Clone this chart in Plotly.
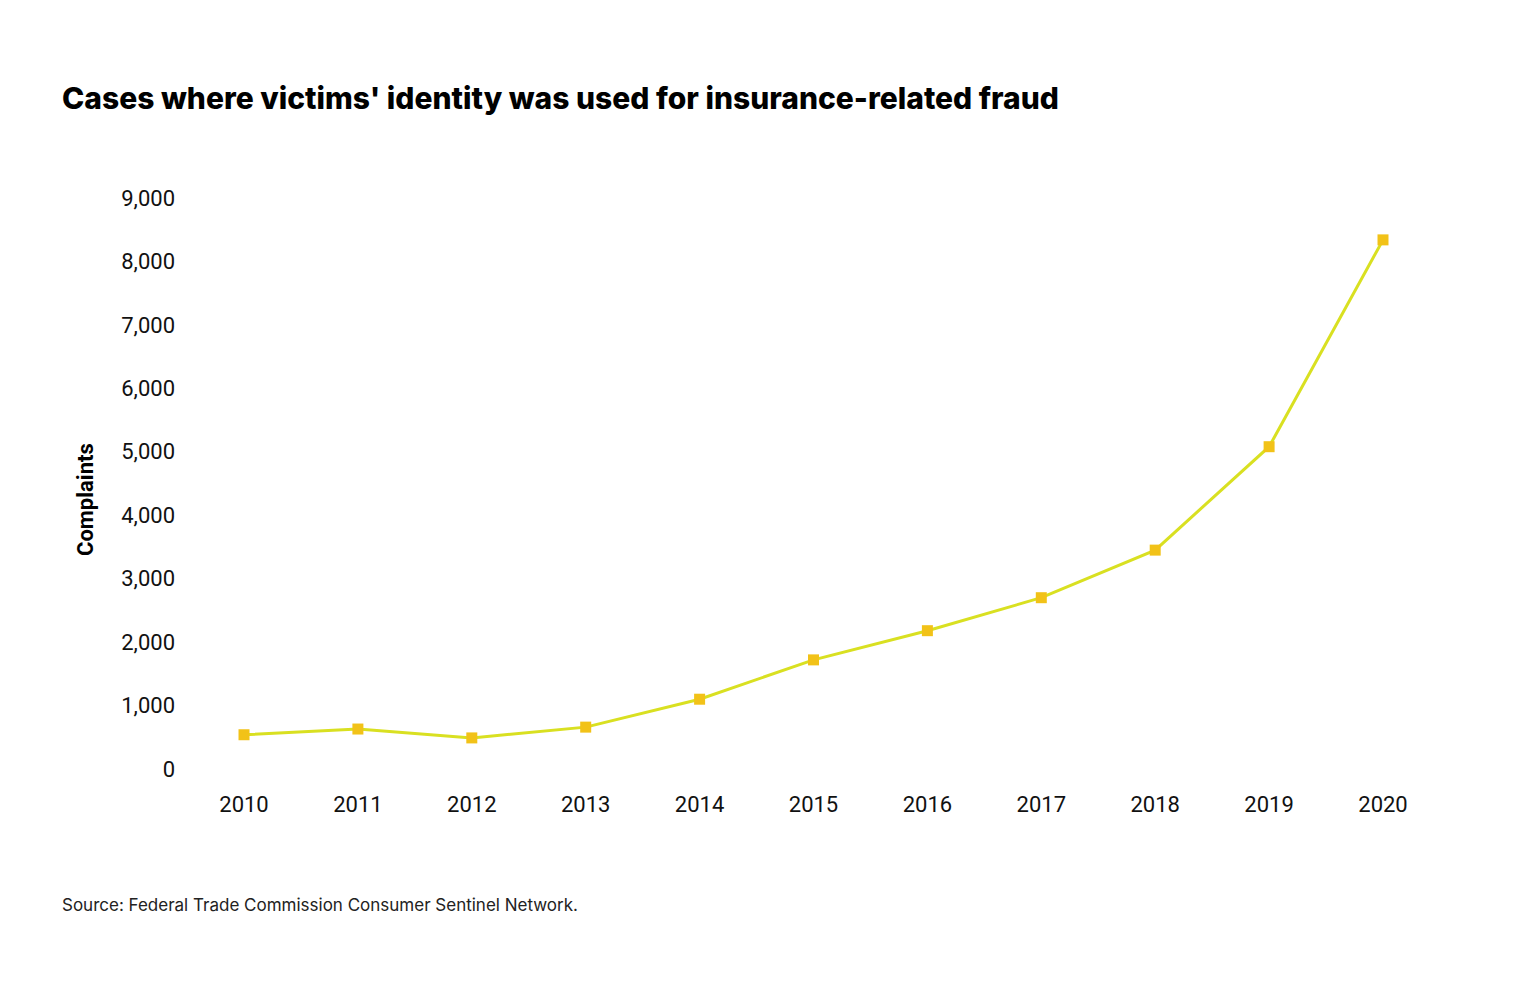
import plotly.graph_objects as go

years = [2010, 2011, 2012, 2013, 2014, 2015, 2016, 2017, 2018, 2019, 2020]
complaints = [540, 630, 490, 660, 1100, 1720, 2180, 2700, 3450, 5080, 8340]
y_ticks = [0, 1000, 2000, 3000, 4000, 5000, 6000, 7000, 8000, 9000]
y_labels = ["0", "1,000", "2,000", "3,000", "4,000", "5,000", "6,000", "7,000", "8,000", "9,000"]

W, H = 1504, 968
L, R, T, B = 236, 129, 190, 207

fig = go.Figure(go.Scatter(
    x=years, y=complaints, mode="lines+markers",
    line=dict(color="#d9e021", width=3),
    marker=dict(symbol="square", size=11, color="#f2c218"),
    cliponaxis=False,
))
fig.update_layout(
    width=W, height=H, paper_bgcolor="white", plot_bgcolor="white",
    margin=dict(l=L, r=R, t=T, b=B),
    font=dict(family="Roboto, Inter, sans-serif", color="#111", size=22),
    showlegend=False,
    annotations=[
        dict(text="Cases where victims' identity was used for insurance-related fraud",
             x=52, y=90, showarrow=False,
             font=dict(family="Inter", size=30, color="#000", weight=800),
             xanchor="left", yanchor="middle"),
        dict(text="Source: Federal Trade Commission Consumer Sentinel Network.",
             x=52, y=897, showarrow=False,
             font=dict(family="Inter", size=17, color="#222"),
             xanchor="left", yanchor="middle"),
        dict(text="<b>Complaints</b>", x=77, y=492, showarrow=False, textangle=-90,
             font=dict(size=22, color="#000"), xanchor="center", yanchor="middle"),
    ],
)
for a in fig.layout.annotations:
    px, py = a.x, a.y
    a.xref = "paper"; a.yref = "paper"
    a.x = (px - L) / (W - L - R)
    a.y = 1 - (py - T) / (H - T - B)
fig.update_xaxes(range=[2010, 2020], tickvals=years, showgrid=False, zeroline=False,
                 showline=False, ticks="", ticklabelstandoff=20, tickfont=dict(size=22))
fig.update_yaxes(range=[0, 9000], tickvals=y_ticks, ticktext=y_labels, showgrid=False,
                 zeroline=False, showline=False, ticks="", ticklabelstandoff=68,
                 tickfont=dict(size=22))
fig.write_html("out.html")
